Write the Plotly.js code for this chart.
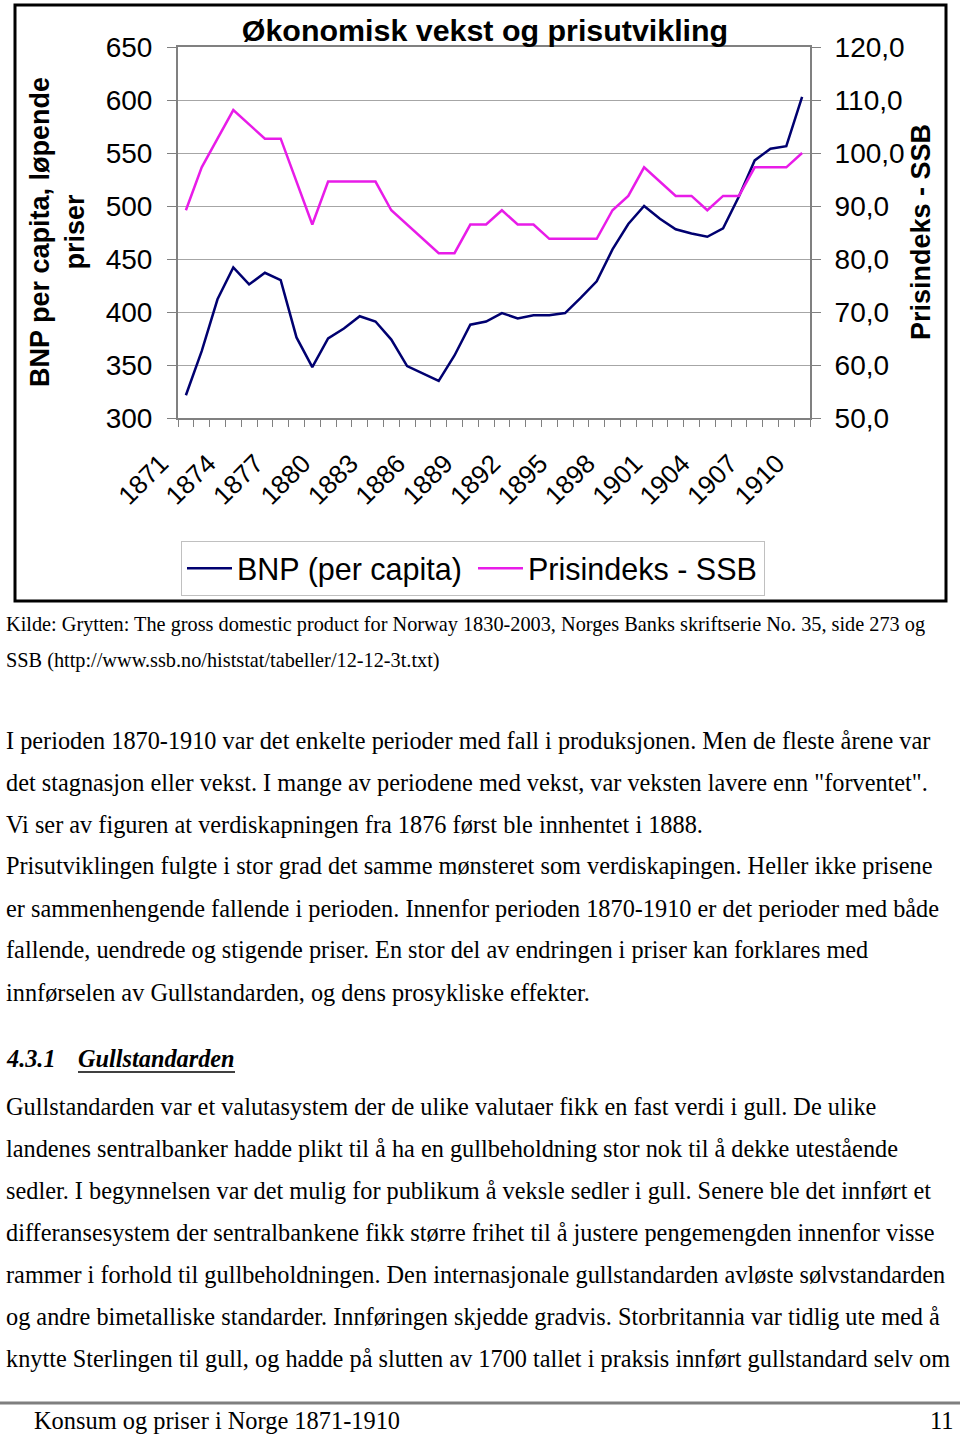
<!DOCTYPE html>
<html><head><meta charset="utf-8">
<script src="https://cdn.plot.ly/plotly-3.0.1.min.js"></script>
<style>html,body{margin:0;padding:0;background:#fff}#chart{width:960px;height:1436px}</style>
</head><body><div id="chart"></div>
<script>
// ---- data ----
const years = [1871,1872,1873,1874,1875,1876,1877,1878,1879,1880,
               1881,1882,1883,1884,1885,1886,1887,1888,1889,1890,
               1891,1892,1893,1894,1895,1896,1897,1898,1899,1900,
               1901,1902,1903,1904,1905,1906,1907,1908,1909,1910];
const bnp = [321.5,363,412,442,426,437,430,376,348,375,
             384.5,396,391,374,349,342,335,359,388,391,
             399,394,397,397,399,413.5,429,459,483,500,
             488,478,474,471,479,509,543,554,556.5,603];
const prisindeks = [89.2,97.3,102.7,108.1,105.4,102.7,102.7,94.6,86.5,94.6,
                    94.6,94.6,94.6,89.2,86.5,83.8,81.1,81.1,86.5,86.5,
                    89.2,86.5,86.5,83.8,83.8,83.8,83.8,89.2,91.9,97.3,
                    94.6,91.9,91.9,89.2,91.9,91.9,97.3,97.3,97.3,100.0];
const tickYears = [1871,1874,1877,1880,1883,1886,1889,1892,1895,1898,1901,1904,1907,1910];
const seriesNames = ['BNP (per capita)', 'Prisindeks - SSB'];
const chartTitle = 'Økonomisk vekst og prisutvikling';
const leftTitle = 'BNP per capita, løpende<br>priser';
const rightTitle = 'Prisindeks - SSB';
const sourceLines = [
  'Kilde: Grytten: The gross domestic product for Norway 1830-2003, Norges Banks skriftserie No. 35, side 273 og',
  'SSB (http://www.ssb.no/histstat/tabeller/12-12-3t.txt)'
];
const para1 = [
  'I perioden 1870-1910 var det enkelte perioder med fall i produksjonen. Men de fleste årene var',
  'det stagnasjon eller vekst. I mange av periodene med vekst, var veksten lavere enn "forventet".',
  'Vi ser av figuren at verdiskapningen fra 1876 først ble innhentet i 1888.',
  'Prisutviklingen fulgte i stor grad det samme mønsteret som verdiskapingen. Heller ikke prisene',
  'er sammenhengende fallende i perioden. Innenfor perioden 1870-1910 er det perioder med både',
  'fallende, uendrede og stigende priser. En stor del av endringen i priser kan forklares med',
  'innførselen av Gullstandarden, og dens prosykliske effekter.'
];
const headingNum = '4.3.1';
const headingText = 'Gullstandarden';
const para2 = [
  'Gullstandarden var et valutasystem der de ulike valutaer fikk en fast verdi i gull. De ulike',
  'landenes sentralbanker hadde plikt til å ha en gullbeholdning stor nok til å dekke utestående',
  'sedler. I begynnelsen var det mulig for publikum å veksle sedler i gull. Senere ble det innført et',
  'differansesystem der sentralbankene fikk større frihet til å justere pengemengden innenfor visse',
  'rammer i forhold til gullbeholdningen. Den internasjonale gullstandarden avløste sølvstandarden',
  'og andre bimetalliske standarder. Innføringen skjedde gradvis. Storbritannia var tidlig ute med å',
  'knytte Sterlingen til gull, og hadde på slutten av 1700 tallet i praksis innført gullstandard selv om'
];
const footerLeft = 'Konsum og priser i Norge 1871-1910';
const footerRight = '11';

// ---- layout helpers (pixel -> paper) ----
const W = 960, H = 1436, L = 178, R = 810, T = 47, B = 418;
const px = x => (x - L) / (R - L);
const py = y => (B - y) / (B - T);
const SANS = 'Liberation Sans, Arial, sans-serif';
const SERIF = 'Liberation Serif, Times New Roman, serif';

const annotations = [];
function textLine(t, x, y, size, opts) {
  annotations.push(Object.assign({
    xref: 'paper', yref: 'paper', x: px(x), y: py(y), xanchor: 'left', yanchor: 'middle',
    showarrow: false, text: t, font: {family: SERIF, size: size, color: '#000'}
  }, opts || {}));
}
annotations.push({xref:'paper', yref:'paper', x: px(57), y: py(232), xanchor:'center', yanchor:'middle',
  showarrow:false, textangle:-90, text:'<b>'+leftTitle+'</b>', font:{family:SANS, size:27, color:'#000'}});
annotations.push({xref:'paper', yref:'paper', x: px(921), y: py(232), xanchor:'center', yanchor:'middle',
  showarrow:false, textangle:-90, text:'<b>'+rightTitle+'</b>', font:{family:SANS, size:27, color:'#000'}});

const srcY = [625, 660];
sourceLines.forEach((t, i) => textLine(t, 4, srcY[i], 20.3));
const p1Y = [740, 782, 824, 866, 908, 950, 992];
para1.forEach((t, i) => textLine(t, 4, p1Y[i], 24.3));
textLine('<b><i>' + headingNum + '</i></b>', 4, 1058, 24.3);
textLine('<b><i>' + headingText + '</i></b>', 76, 1058, 24.3);
const p2Y = [1106, 1148, 1190, 1232, 1274, 1316, 1358];
para2.forEach((t, i) => textLine(t, 4, p2Y[i], 24.3));
textLine(footerLeft, 32, 1420, 24.4);
textLine(footerRight, 956, 1420, 24.4, {xanchor: 'right'});

const shapes = [
  {type:'rect', xref:'paper', yref:'paper', x0:px(15), x1:px(946), y0:py(5), y1:py(601),
   line:{color:'#000', width:3}, fillcolor:'rgba(0,0,0,0)'},
  {type:'line', xref:'paper', yref:'paper', x0:px(0), x1:px(960), y0:py(1403), y1:py(1403),
   line:{color:'#7f7f7f', width:3}},
  {type:'line', xref:'paper', yref:'paper', x0:px(78), x1:px(235), y0:py(1072), y1:py(1072),
   line:{color:'#000', width:1.5}}
];

const traces = [
  {x: years, y: bnp, name: seriesNames[0], type:'scatter', mode:'lines',
   line:{color:'#000070', width:2.5}, yaxis:'y'},
  {x: years, y: prisindeks, name: seriesNames[1], type:'scatter', mode:'lines',
   line:{color:'#e81ce8', width:2.5}, yaxis:'y2'}
];

const layout = {
  width: W, height: H, paper_bgcolor:'#fff', plot_bgcolor:'#fff',
  margin: {l: L, r: W - R, t: T, b: H - B, pad: 0},
  separators: ', ',
  font: {family: SANS, color:'#000'},
  title: {text:'<b>'+chartTitle+'</b>', x: 485/W, y: 1 - 30/H, xref:'container', yref:'container',
          xanchor:'center', yanchor:'middle', font:{family:SANS, size:30.4, color:'#000'}},
  showlegend: true,
  legend: {orientation:'h', x: px(181), y: py(541), xanchor:'left', yanchor:'top',
           bordercolor:'#c0c0c0', borderwidth:1, bgcolor:'#fff',
           font:{family:SANS, size:30.5, color:'#000'}, itemwidth:45, entrywidth:231, entrywidthmode:'pixels'},
  xaxis: {type:'linear', range:[1870.5, 1910.5], tickmode:'array', tickvals: tickYears,
          ticktext: tickYears.map(String), ticks:'', tickangle:-45,
          tickfont:{family:SANS, size:26, color:'#000'},
          ticklabelstandoff: 18, ticklabelshift: -25,
          minor:{tickmode:'linear', tick0:1870.5, dtick:1, ticks:'outside', ticklen:7, tickcolor:'#808080', tickwidth:1, showgrid:false},
          showgrid:false, zeroline:false, showline:true, linecolor:'#808080', linewidth:2, mirror:true},
  yaxis: {range:[300, 650], tick0:300, dtick:50, tickmode:'linear', ticks:'outside', ticklen:9,
          tickcolor:'#808080', tickfont:{family:SANS, size:28, color:'#000'}, ticklabelstandoff: 9,
          showgrid:true, gridcolor:'#a6a6a6', gridwidth:1, zeroline:false,
          showline:true, linecolor:'#808080', linewidth:2, mirror:true},
  yaxis2: {range:[50, 120], tick0:50, dtick:10, tickmode:'linear', tickformat:'.1f', overlaying:'y', side:'right',
           ticks:'outside', ticklen:10, tickcolor:'#808080', tickfont:{family:SANS, size:28, color:'#000'},
           ticklabelstandoff: 8, showgrid:false, zeroline:false, showline:false},
  annotations: annotations,
  shapes: shapes
};

Plotly.newPlot('chart', traces, layout, {staticPlot:true, displayModeBar:false});
</script>
</body></html>
